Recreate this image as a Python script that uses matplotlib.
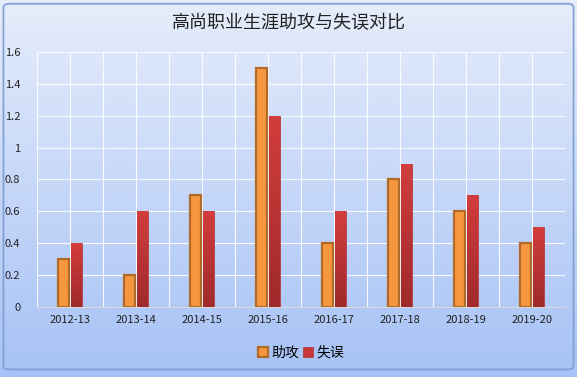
import numpy as np
import matplotlib.pyplot as plt
from matplotlib.patches import FancyBboxPatch
from matplotlib.colors import LinearSegmentedColormap

plt.rcParams['font.family'] = ['Noto Sans CJK SC', 'DejaVu Sans']

seasons = ['2012-13', '2013-14', '2014-15', '2015-16', '2016-17', '2017-18', '2018-19', '2019-20']
assists = [0.3, 0.2, 0.7, 1.5, 0.4, 0.8, 0.6, 0.4]
turnovers = [0.4, 0.6, 0.6, 1.2, 0.6, 0.9, 0.7, 0.5]
yticks = [0, 0.2, 0.4, 0.6, 0.8, 1.0, 1.2, 1.4, 1.6]
ytick_labels = ['0', '0.2', '0.4', '0.6', '0.8', '1', '1.2', '1.4', '1.6']

fig = plt.figure(figsize=(5.77, 3.77), dpi=100)

# background gradient
bg = fig.add_axes([0, 0, 1, 1], zorder=-10)
grad = np.linspace(0, 1, 256).reshape(-1, 1)
top = np.array([0xe6, 0xed, 0xfb]) / 255
bot = np.array([0xa6, 0xc2, 0xf6]) / 255
img = top + (bot - top) * grad[:, :, None]
bg.imshow(img, aspect='auto', extent=[0, 1, 0, 1], origin='upper')
bg.set_xlim(0, 1)
bg.set_ylim(0, 1)
bg.axis('off')
frame = FancyBboxPatch((0.006, 0.02), 0.988, 0.97, boxstyle='round,pad=0,rounding_size=0.01',
                       fill=False, edgecolor='#7f9fd0', linewidth=1.2, transform=bg.transAxes)
bg.add_patch(frame)

ax = fig.add_axes([0.064, 0.186, 0.915, 0.676])
ax.set_facecolor('none')

x = np.arange(len(seasons))
w = 0.165
ax.bar(x - w / 2 - 0.015, assists, w, color='#f7973d', edgecolor='#b06a2c', linewidth=1.6,
       label='助攻', zorder=3)
red_bars = ax.bar(x + w / 2 + 0.015, turnovers, w, color='#c8383a', edgecolor='#b23032',
                  linewidth=0.5, label='失误', zorder=3)

# shade the red bars from light to dark
red_cmap = LinearSegmentedColormap.from_list('red', ['#d23d3d', '#a02a2b'])
for b in red_bars:
    bx, by = b.get_x(), b.get_y()
    bw, bh = b.get_width(), b.get_height()
    im = ax.imshow(np.linspace(0, 1, 64).reshape(-1, 1), cmap=red_cmap, aspect='auto',
                   extent=[bx, bx + bw, by, by + bh], origin='upper', zorder=4)
    im.set_clip_path(b)

ax.set_xlim(-0.5, len(seasons) - 0.5)
ax.set_ylim(0, 1.6)
ax.set_yticks(yticks)
ax.set_yticklabels(ytick_labels)
ax.set_xticks(x)
ax.set_xticklabels(seasons)
ax.set_xticks(np.arange(-0.5, len(seasons), 1.0), minor=True)
ax.grid(True, axis='y', color='white', linewidth=0.8, alpha=0.9, zorder=0)
ax.grid(True, axis='x', which='both', color='white', linewidth=0.8, alpha=0.9, zorder=0)
ax.tick_params(axis='both', which='both', length=0, labelsize=8, colors='#222222')
ax.tick_params(axis='x', pad=6)
ax.tick_params(axis='y', pad=12)
for s in ['top', 'right', 'left']:
    ax.spines[s].set_visible(False)
ax.spines['bottom'].set_color('#d8d8d8')

fig.text(0.5, 0.94, '高尚职业生涯助攻与失误对比', ha='center', va='center', fontsize=13, color='#222222')

ax.legend(loc='center', bbox_to_anchor=(0.5, -0.18), ncol=2, frameon=False, fontsize=10,
          handlelength=0.75, handleheight=0.75, handletextpad=0.2, columnspacing=0.3)

fig.savefig('out.png', dpi=100)
